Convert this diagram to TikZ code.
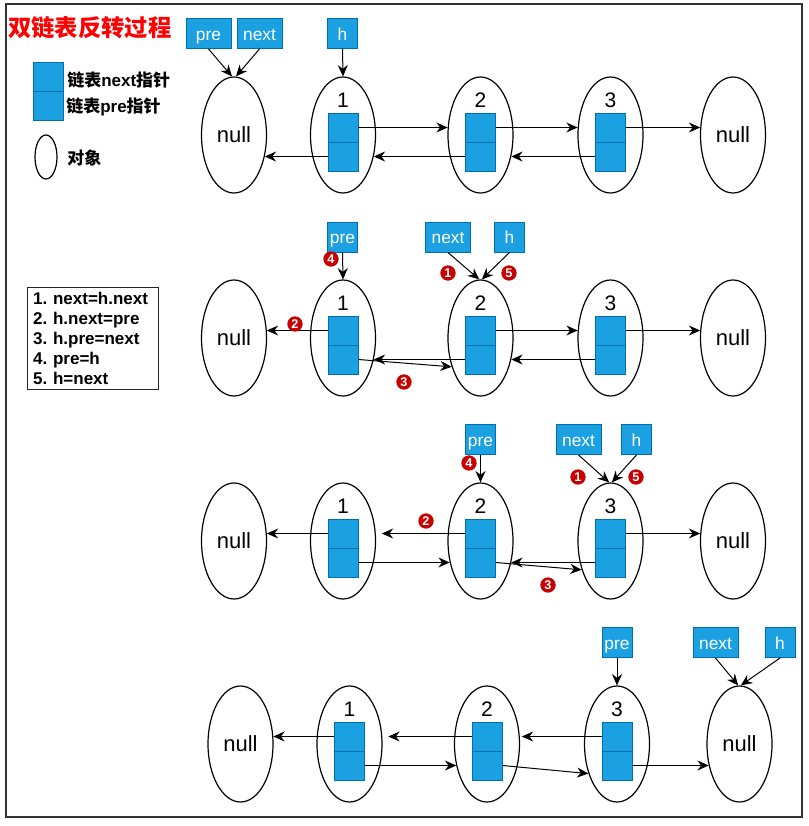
\documentclass[tikz,border=0pt]{standalone}
\usepackage{fontspec}
\setmainfont{Liberation Sans}
\newfontfamily\cjk{Noto Sans CJK SC}
\usetikzlibrary{shapes.geometric,arrows.meta,calc}
\definecolor{cellfill}{HTML}{1BA1E2}
\definecolor{celledge}{HTML}{006EAF}
\definecolor{mkred}{HTML}{C80000}
\frenchspacing
\newcommand\objrow[3]{%
  \node[obj] (nL#1) at (234+#3,#2) {null};
  \node[obj] (o#11) at (343+#3,#2) {};
  \node[obj] (o#12) at (480.5+#3,#2) {};
  \node[obj] (o#13) at (610.5+#3,#2) {};
  \node[obj] (nR#1) at (733+#3,#2) {null};
  \foreach \i in {1,2,3}{%
    \node[cell] (a#1\i) at ($(o#1\i)+(0,-7.5)$) {};
    \node[cell] (b#1\i) at ($(o#1\i)+(0,21.5)$) {};
    \node[numl] (l#1\i) at ($(o#1\i)+(0,-35)$) {\i};
  }%
}
\begin{document}
\begin{tikzpicture}[x=0.75pt,y=-0.75pt,
  obj/.style={ellipse, draw, line width=0.9pt, minimum width=48.75pt, minimum height=87pt, inner sep=0pt, font=\fontsize{16.5}{19}\selectfont},
  cell/.style={rectangle, draw=celledge, fill=cellfill, line width=0.7pt, minimum width=22.5pt, minimum height=21.75pt, inner sep=0pt},
  ptr/.style={rectangle, draw=celledge, fill=cellfill, line width=0.7pt, minimum height=22.5pt, minimum width=22.5pt, inner sep=0pt, text height=10.5pt, text depth=0.5pt, text=white, font=\fontsize{13}{15}\selectfont},
  wide/.style={minimum width=33.75pt},
  arr/.style={-{Stealth[length=8.5pt,width=7.5pt,inset=2.8pt]}, line width=0.75pt},
  mk/.style={circle, fill=mkred, text=white, inner sep=0pt, minimum size=11.5pt, font=\bfseries\fontsize{9.5}{9.5}\selectfont},
  numl/.style={inner sep=0pt, font=\fontsize{15.75}{18}\selectfont},
  lgtext/.style={anchor=west, inner sep=0pt, font=\bfseries\fontsize{12.75}{15}\selectfont}]
\useasboundingbox (0,0) rectangle (809,826);
\draw[draw=black!80, line width=1.1pt] (6,4) rectangle (802,817);

% title and legend
\node[anchor=west, inner sep=0pt, text=red, font=\cjk\bfseries\fontsize{17.5}{20}\selectfont] (title) at (8,28) {双链表反转过程};
\node[cell] (lgA) at (48,76.5) {};
\node[cell] (lgB) at (48,105.5) {};
\node[lgtext] (lgt1) at (67,80) {{\cjk 链表}next{\cjk 指针}};
\node[lgtext] (lgt2) at (66,107) {{\cjk 链表}pre{\cjk 指针}};
\node[ellipse, draw, line width=0.9pt, minimum width=16.5pt, minimum height=33pt, inner sep=0pt] (lgE) at (46,157) {};
\node[lgtext] (lgt3) at (67,158) {\cjk 对象};
\node[draw=black!85, line width=1.1pt, anchor=north west, minimum width=98.25pt, minimum height=76.5pt, inner xsep=3.75pt, inner ysep=0pt, align=left, text width=90pt, font=\bfseries\fontsize{12.75}{15}\selectfont] (steps) at (27,287) {1. next=h.next\\2. h.next=pre\\3. h.pre=next\\4. pre=h\\5. h=next};

% rows
\objrow{1}{135}{0}
\objrow{2}{338}{0}
\objrow{3}{541}{0}
\objrow{4}{744}{6.5}

% ---------- row 1
\node[ptr, wide] (pre1) at (208.5,33.5) {pre};
\node[ptr, wide] (next1) at (259.5,33.5) {next};
\node[ptr] (h1) at (342.5,33.5) {h};
\draw[arr] (pre1.south) -- ([xshift=-1.5pt]nL1.north);
\draw[arr] (next1.south) -- ([xshift=1.5pt]nL1.north);
\draw[arr] (h1.south) -- (o11.north);
\draw[arr] (a11.east) -- (a11.east -| o12.167);
\draw[arr] (a12.east) -- (a12.east -| o13.167);
\draw[arr] (a13.east) -- (a13.east -| nR1.167);
\draw[arr] (b12.west) -- (b12.west -| o11.325);
\draw[arr] (b11.west) -- (b11.west -| nL1.325);
\draw[arr] (b13.west) -- (b13.west -| o12.325);

% ---------- row 2
\node[ptr] (pre2) at (342.5,237) {pre};
\node[ptr, wide] (next2) at (448,237) {next};
\node[ptr] (h2) at (509.5,237) {h};
\draw[arr] (pre2.south) -- (o21.north);
\draw[arr] (next2.south) -- ([xshift=-1pt]o22.north);
\draw[arr] (h2.south) -- ([xshift=1pt]o22.north);
\draw[arr] (a21.west) -- (a21.west -| nL2.13);
\draw[arr] (b22.west) -- (b22.west -| o21.325);
\draw[arr] (b21.east) -- (o22.225);
\draw[arr] (a22.east) -- (a22.east -| o23.167);
\draw[arr] (a23.east) -- (a23.east -| nR2.167);
\draw[arr] (b23.west) -- (b23.west -| o22.325);
\node[mk] (m24) at (331,259) {4};
\node[mk] (m21) at (448,273) {1};
\node[mk] (m25) at (509,273) {5};
\node[mk] (m22) at (295,324) {2};
\node[mk] (m23) at (404,382) {3};

% ---------- row 3
\node[ptr] (pre3) at (480.5,439.5) {pre};
\node[ptr, wide] (next3) at (578.5,439.5) {next};
\node[ptr] (h3) at (636.5,439.5) {h};
\draw[arr] (pre3.south) -- (o32.north);
\draw[arr] (next3.south) -- ([xshift=-1pt]o33.north);
\draw[arr] (h3.south) -- ([xshift=1pt]o33.north);
\draw[arr] (a31.west) -- (a31.west -| nL3.13);
\draw[arr] (a32.west) -- ($(a32.west -| o31.13)+(6,0)$);
\draw[arr] (b31.east) -- (b31.east -| o32.215);
\draw[arr] (b33.west) -- (b33.west -| o32.325);
\draw[arr] (b32.east) -- (o33.225);
\draw[arr] (a33.east) -- (a33.east -| nR3.167);
\node[mk] (m34) at (469,463) {4};
\node[mk] (m31) at (578,477) {1};
\node[mk] (m35) at (636,477) {5};
\node[mk] (m32) at (426,521) {2};
\node[mk] (m33) at (548,585) {3};

% ---------- row 4
\node[ptr] (pre4) at (617,642.5) {pre};
\node[ptr, wide] (next4) at (715.5,642.5) {next};
\node[ptr] (h4) at (780,642.5) {h};
\draw[arr] (pre4.south) -- (o43.north);
\draw[arr] (next4.south) -- ([xshift=-1pt]nR4.north);
\draw[arr] (h4.south) -- ([xshift=1pt]nR4.north);
\draw[arr] (a41.west) -- (a41.west -| nL4.13);
\draw[arr] (a42.west) -- ($(a42.west -| o41.13)+(6,0)$);
\draw[arr] (a43.west) -- ($(a43.west -| o42.13)+(2,0)$);
\draw[arr] (b41.east) -- (b41.east -| o42.215);
\draw[arr] (b42.east) -- (o43.226);
\draw[arr] (b43.east) -- (b43.east -| nR4.215);
\end{tikzpicture}
\end{document}
